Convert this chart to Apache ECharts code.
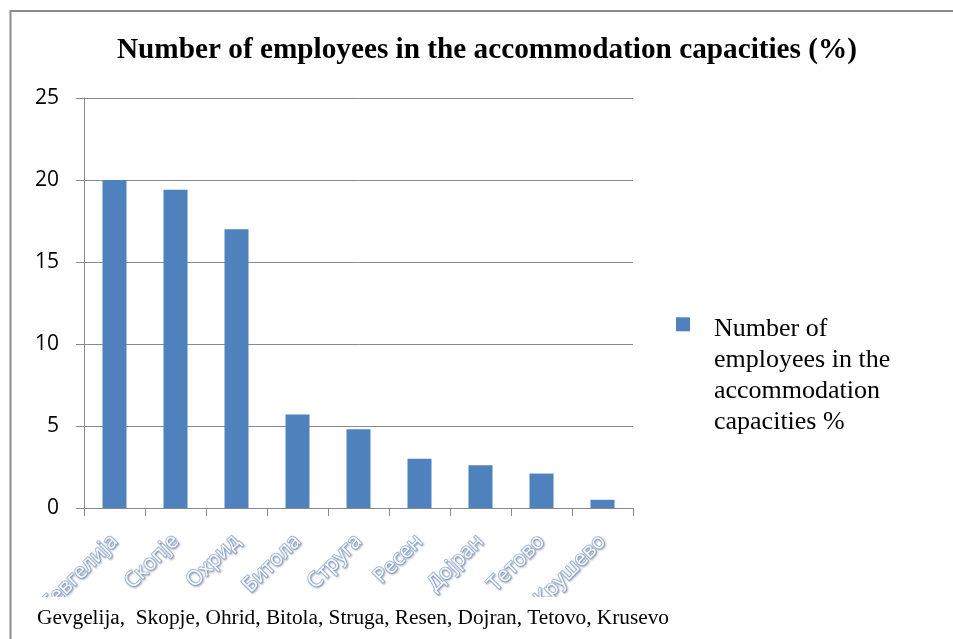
<!DOCTYPE html>
<html>
<head>
<meta charset="utf-8">
<script src="https://cdn.jsdelivr.net/npm/echarts@6/dist/echarts.min.js"></script>
<style>
html,body{margin:0;padding:0;background:#fff;}
#chart{width:953px;height:639px;}
</style>
</head>
<body>
<div id="chart"></div>
<script>
const titleText = 'Number of employees in the accommodation capacities (%)';
const categories = ['Гевгелија','Скопје','Охрид','Битола','Струга','Ресен','Дојран','Тетово','Крушево'];
const values = [20.0, 19.4, 17.0, 5.7, 4.8, 3.0, 2.6, 2.1, 0.5];
const seriesName = 'Number of employees in the accommodation capacities %';
const legendLines = ['Number of', 'employees in the', 'accommodation', 'capacities %'];
const footText = 'Gevgelija,  Skopje, Ohrid, Bitola, Struga, Resen, Dojran, Tetovo, Krusevo';
const yTicks = [0, 5, 10, 15, 20, 25];

const chart = echarts.init(document.getElementById('chart'), null, {renderer: 'canvas'});
const gray = '#898989';
chart.setOption({
  animation: false,
  backgroundColor: '#ffffff',
  title: [
    {
      text: titleText,
      left: 482, top: 31, textAlign: 'center',
      textStyle: {fontFamily: 'Liberation Serif', fontWeight: 'bold', fontSize: 29.25, color: '#000'}
    },
    {
      text: footText,
      left: 32, top: 603,
      textStyle: {fontFamily: 'Liberation Serif', fontWeight: 'normal', fontSize: 21.3, color: '#000'}
    }
  ],
  legend: {
    show: true,
    left: 671, top: 210,
    icon: 'rect', itemWidth: 14, itemHeight: 14,
    data: [seriesName],
    formatter: function () {
      return '{s| }\n{s| }\n{s| }\n' + legendLines.map(l => '{t|' + l + '}').join('\n');
    },
    textStyle: {
      padding: [0, 0, 0, 19],
      rich: {
        s: {fontFamily: 'Liberation Serif', fontSize: 26, lineHeight: 34.3},
        t: {fontFamily: 'Liberation Serif', fontSize: 26, lineHeight: 31, color: '#000'}
      }
    }
  },
  grid: {left: 84, right: 320, top: 98, bottom: 131, containLabel: false},
  xAxis: {
    type: 'category',
    data: categories,
    boundaryGap: true,
    axisLine: {show: true, lineStyle: {color: gray, width: 1}},
    axisTick: {show: true, length: 8, alignWithLabel: false, lineStyle: {color: gray}},
    axisLabel: {
      interval: 0, rotate: 45, margin: 30,
      fontFamily: 'Open Sans', fontSize: 21,
      color: '#f9fbfe', textBorderColor: '#9ab6dc', textBorderWidth: 1.8,
      textShadowColor: 'rgba(50,60,90,0.3)', textShadowBlur: 2, textShadowOffsetX: 1, textShadowOffsetY: 1
    }
  },
  yAxis: {
    type: 'value',
    min: 0, max: 25, interval: 5,
    axisLine: {show: true, lineStyle: {color: gray, width: 1}},
    axisTick: {show: true, length: 8, inside: false, lineStyle: {color: gray}},
    splitLine: {show: true, lineStyle: {color: gray, width: 1}},
    axisLabel: {margin: 25, fontFamily: 'Open Sans', fontSize: 21, color: '#000'}
  },
  series: [{
    name: seriesName,
    type: 'bar',
    data: values,
    barWidth: 24,
    itemStyle: {color: '#4f81bd'}
  }],
  graphic: [
    {type: 'rect', z: 5, silent: true, shape: {x: 12, y: 597, width: 960, height: 60}, style: {fill: '#ffffff'}},
    {type: 'rect', z: 7, silent: true, shape: {x: 10.5, y: 11, width: 1000, height: 1000}, style: {fill: 'none', stroke: '#8c8c8c', lineWidth: 2}}
  ]
});
</script>
</body>
</html>
